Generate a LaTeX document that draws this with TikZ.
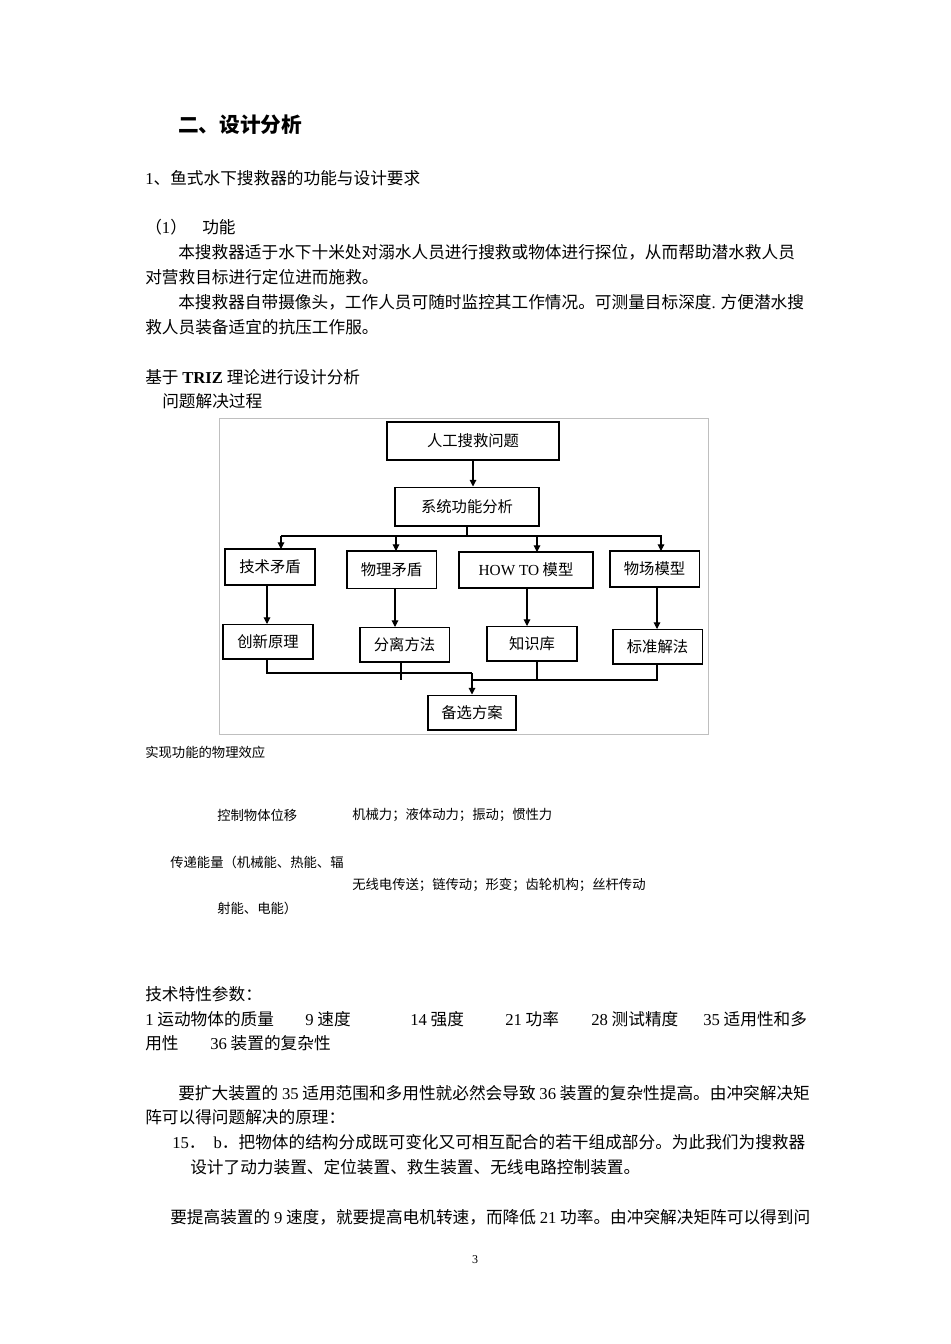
\documentclass[tikz,border=0pt]{standalone}
\usepackage{fontspec}
\setmainfont{Noto Sans CJK SC}
\newfontfamily\lat{Liberation Serif}
\usetikzlibrary{arrows.meta}
\begin{document}
\begin{tikzpicture}[x=0.75pt,y=-0.75pt,
  body/.style={anchor=west,inner sep=0pt,font=\fontsize{12.5pt}{14pt}\selectfont},
  small/.style={anchor=west,inner sep=0pt,font=\fontsize{10pt}{12pt}\selectfont},
  fbox/.style={draw,line width=1pt,inner sep=0pt,font=\fontsize{11.5pt}{13pt}\selectfont},
  conn/.style={line width=0.8pt},
  arr/.style={line width=0.8pt,-{Triangle[length=5pt,width=5pt]}}]
\useasboundingbox (0,0) rectangle (950,1344);
\fill[white] (0,0) rectangle (950,1344);
% text
\node[body,font=\fontsize{15.5pt}{18pt}\selectfont\bfseries] (t1) at (178,125) {二、设计分析};
\node[body] (t2) at (145,178) {{\lat 1}、鱼式水下搜救器的功能与设计要求};
\node[body] (t3) at (145,227) {（{\lat 1}）};
\node[body] (t3b) at (202,227) {功能};
\node[body] (t4) at (178,252) {本搜救器适于水下十米处对溺水人员进行搜救或物体进行探位，从而帮助潜水救人员};
\node[body] (t5) at (145,277) {对营救目标进行定位进而施救。};
\node[body] (t6) at (178,302) {本搜救器自带摄像头，工作人员可随时监控其工作情况。可测量目标深度{\lat .} 方便潜水搜};
\node[body] (t7) at (145,327) {救人员装备适宜的抗压工作服。};
\node[body] (t8) at (145,377) {基于 {\lat\bfseries TRIZ} 理论进行设计分析};
\node[body] (t9) at (162,401) {问题解决过程};
\node[small] (t10) at (145,752) {实现功能的物理效应};
\node[small] (t11) at (217,815) {控制物体位移};
\node[small] (t12) at (352,815) {机械力；液体动力；振动；惯性力};
\node[small] (t13) at (170,862) {传递能量（机械能、热能、辐};
\node[small] (t14) at (352,885) {无线电传送；链传动；形变；齿轮机构；丝杆传动};
\node[small] (t15) at (217,908) {射能、电能）};
\node[body] (t16) at (145,994) {技术特性参数：};
\node[body] (a1) at (145,1019) {{\lat 1} 运动物体的质量};
\node[body] (a2) at (305,1019) {{\lat 9} 速度};
\node[body] (a3) at (410,1019) {{\lat 14} 强度};
\node[body] (a4) at (505,1019) {{\lat 21} 功率};
\node[body] (a5) at (591,1019) {{\lat 28} 测试精度};
\node[body] (a6) at (703,1019) {{\lat 35} 适用性和多};
\node[body] (a7) at (145,1043) {用性};
\node[body] (a8) at (210,1043) {{\lat 36} 装置的复杂性};
\node[body] (t17) at (178,1093) {要扩大装置的 {\lat 35} 适用范围和多用性就必然会导致 {\lat 36} 装置的复杂性提高。由冲突解决矩};
\node[body] (t18) at (145,1117) {阵可以得问题解决的原理：};
\node[body] (t19) at (172,1142) {{\lat 15}．\hspace{6pt}{\lat b}．把物体的结构分成既可变化又可相互配合的若干组成部分。为此我们为搜救器};
\node[body] (t20) at (190,1167) {设计了动力装置、定位装置、救生装置、无线电路控制装置。};
\node[body] (t21) at (170,1217) {要提高装置的 {\lat 9} 速度，就要提高电机转速，而降低 {\lat 21} 功率。由冲突解决矩阵可以得到问};
\node[small,anchor=center,font=\fontsize{9pt}{10pt}\lat] (pg) at (475,1260) {3};
% flowchart frame
\draw[gray!50,line width=0.6pt] (219,418) rectangle (708,734);
\node[fbox,minimum width=129pt,minimum height=28.5pt] (n1) at (473,441) {人工搜救问题};
\node[fbox,minimum width=108pt,minimum height=29pt] (n2) at (467,506.5) {系统功能分析};
\node[fbox,minimum width=67.5pt,minimum height=27pt] (b1) at (270,567) {技术矛盾};
\node[fbox,minimum width=67pt,minimum height=28pt] (b2) at (391.5,569.5) {物理矛盾};
\node[fbox,minimum width=100.5pt,minimum height=27pt] (b3) at (526,570) {{\lat HOW TO} 模型};
\node[fbox,minimum width=67pt,minimum height=27pt] (b4) at (654.5,569) {物场模型};
\node[fbox,minimum width=67.5pt,minimum height=26pt] (c1) at (268,641.5) {创新原理};
\node[fbox,minimum width=67pt,minimum height=26pt] (c2) at (404.5,644.5) {分离方法};
\node[fbox,minimum width=67.5pt,minimum height=26pt] (c3) at (532,643.5) {知识库};
\node[fbox,minimum width=67pt,minimum height=26pt] (c4) at (657.5,646.5) {标准解法};
\node[fbox,minimum width=66pt,minimum height=26pt] (d) at (472,712.5) {备选方案};
\coordinate (h) at (467,536);
\draw[arr] (n1.south) -- (n2.north -| n1.south);
\draw[conn] (n2.south) -- (h);
\draw[conn] (281,536) -- (662,536);
\draw[arr] (281,536) -- (281,549);
\draw[arr] (396,536) -- (396,551);
\draw[arr] (537,536) -- (537,552);
\draw[arr] (661,536) -- (661,551);
\draw[arr] (267,585) -- (267,624);
\draw[arr] (395,588) -- (395,627);
\draw[arr] (527,588) -- (527,626);
\draw[arr] (657,587) -- (657,629);
\draw[conn] (267,659) -- (267,673) -- (472,673);
\draw[conn] (657,664) -- (657,680) -- (472,680);
\draw[conn] (401,662) -- (401,680);
\draw[conn] (537,661) -- (537,680);
\draw[arr] (472,673) -- (d.north);
\end{tikzpicture}
\end{document}
